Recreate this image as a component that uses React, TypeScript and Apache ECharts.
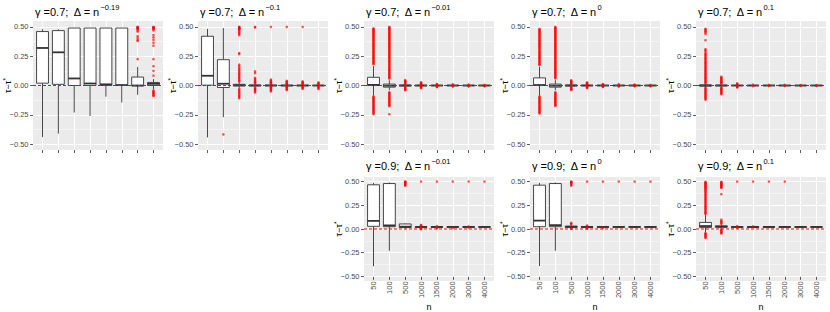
import React, { useEffect, useRef } from "react";
import * as echarts from "echarts";

// ---------- data ----------
const categories = ["50", "100", "500", "1000", "1500", "2000", "3000", "4000"];
const yTickValues = [-0.5, -0.25, 0, 0.25, 0.5];
const referenceValue = 0; // red dashed line (tau - tau* = 0)

type Box = [number, number, number, number, number]; // min, q1, median, q3, max

// Panel 1: gamma 0.7, Delta = n^-0.19
const p1Boxes: Box[] = [
  [-0.44, 0.02, 0.32, 0.46, 0.48],
  [-0.41, 0.01, 0.283, 0.468, 0.48],
  [-0.23, 0.0, 0.06, 0.49, 0.49],
  [-0.26, 0.0, 0.017, 0.49, 0.49],
  [-0.095, 0.0, 0.01, 0.49, 0.49],
  [-0.145, 0.0, 0.004, 0.49, 0.49],
  [-0.08, -0.003, 0.0, 0.072, 0.158],
  [-0.03, 0.0, 0.014, 0.026, 0.055],
];
const p1Outliers: number[][] = [
  [], [], [], [], [], [],
  [0.5, 0.497, 0.493, 0.49, 0.485, 0.48, 0.47, 0.46, 0.42, 0.405, 0.39, 0.38, 0.225],
  [0.5, 0.497, 0.494, 0.49, 0.485, 0.48, 0.47, 0.43, 0.41, 0.39, 0.365, 0.34, 0.225, 0.165, 0.125, 0.085,
    -0.042, -0.05, -0.057, -0.064, -0.07, -0.077, -0.084, -0.09],
];

// Panel 2: gamma 0.7, Delta = n^-0.1
const p2Boxes: Box[] = [
  [-0.443, 0.003, 0.083, 0.42, 0.483],
  [-0.27, -0.017, 0.015, 0.22, 0.49],
  [-0.02, -0.004, 0.002, 0.01, 0.025],
  [-0.012, -0.003, 0.0, 0.004, 0.012],
  [-0.008, -0.002, 0.0, 0.003, 0.008],
  [-0.007, -0.002, 0.0, 0.002, 0.007],
  [-0.006, -0.002, 0.0, 0.002, 0.006],
  [-0.005, -0.001, 0.0, 0.001, 0.005],
];
const p2Outliers: number[][] = [
  [],
  [-0.417],
  [0.5, 0.497, 0.493, 0.49, 0.486, 0.482, 0.478, 0.47, 0.46, 0.45, 0.44, 0.43, 0.277, 0.268,
    0.178, 0.166, 0.152, 0.141, 0.13, 0.121, 0.109, 0.1, 0.091, 0.079, 0.07, 0.061, 0.05, 0.041, 0.032,
    -0.028, -0.037, -0.048, -0.059, -0.068, -0.079, -0.089, -0.099, -0.108],
  [0.5, 0.495, 0.12, 0.105, 0.065, 0.055, 0.046, 0.038, 0.03, 0.024, 0.018,
    -0.018, -0.024, -0.03, -0.036, -0.043, -0.05, -0.06],
  [0.5, 0.05, 0.042, 0.035, 0.028, 0.022, 0.016, 0.012, -0.012, -0.016, -0.022, -0.028, -0.035, -0.042, -0.05],
  [0.5, 0.04, 0.033, 0.026, 0.02, 0.014, 0.01, -0.01, -0.014, -0.02, -0.026, -0.033, -0.038],
  [0.5, 0.035, 0.028, 0.022, 0.016, 0.011, -0.011, -0.016, -0.022, -0.028],
  [0.026, 0.02, 0.014, 0.01, -0.01, -0.015, -0.022, -0.03],
];

// Panel 3: gamma 0.7, Delta = n^-0.01
const p3Boxes: Box[] = [
  [-0.085, 0.0, 0.005, 0.07, 0.165],
  [-0.04, -0.014, -0.002, 0.012, 0.045],
  [-0.012, -0.004, 0.0, 0.004, 0.012],
  [-0.006, -0.002, 0.0, 0.002, 0.006],
  [-0.003, -0.001, 0.0, 0.001, 0.003],
  [-0.003, -0.001, 0.0, 0.001, 0.003],
  [-0.002, -0.001, 0.0, 0.001, 0.002],
  [-0.002, -0.001, 0.0, 0.001, 0.002],
];
const p3Outliers: number[][] = [
  [0.487, 0.481, 0.474, 0.469, 0.461, 0.455, 0.448, 0.44, 0.433, 0.427, 0.418, 0.412, 0.404, 0.397, 0.389,
    0.382, 0.375, 0.367, 0.36, 0.352, 0.344, 0.338, 0.33, 0.322, 0.315, 0.307, 0.3, 0.293, 0.285, 0.278,
    0.27, 0.262, 0.255, 0.248, 0.24, 0.233, 0.226, 0.218, 0.21, 0.203, 0.196, 0.188, 0.181,
    -0.092, -0.1, -0.108, -0.113, -0.121, -0.129, -0.136, -0.144, -0.152, -0.159, -0.167, -0.175, -0.183,
    -0.19, -0.198, -0.206, -0.213, -0.221, -0.229, -0.236, -0.244],
  [0.5, 0.494, 0.488, 0.481, 0.475, 0.468, 0.46, 0.453, 0.447, 0.44, 0.432, 0.425, 0.418, 0.41, 0.403,
    0.395, 0.388, 0.38, 0.372, 0.365, 0.357, 0.35, 0.343, 0.335, 0.328, 0.32, 0.312, 0.305, 0.298, 0.29,
    0.282, 0.275, 0.268, 0.26, 0.253, 0.245, 0.238, 0.23, 0.222, 0.215, 0.207, 0.2, 0.193, 0.185, 0.177,
    0.17, 0.162, 0.155, 0.147, 0.14, 0.132, 0.125, 0.118, 0.11, 0.102, 0.095, 0.088, 0.08, 0.073, 0.066,
    0.059, -0.057, -0.064, -0.071, -0.079, -0.086, -0.094, -0.101, -0.109, -0.116, -0.124, -0.131, -0.139,
    -0.146, -0.154, -0.161, -0.169, -0.176, -0.245],
  [0.046, 0.04, 0.035, 0.03, 0.025, 0.02, 0.016, -0.016, -0.02, -0.025, -0.03, -0.035, -0.04],
  [0.027, 0.022, 0.017, 0.012, 0.009, -0.009, -0.013, -0.018, -0.023],
  [0.012, 0.008, 0.005, -0.005, -0.009, -0.013],
  [0.009, 0.005, -0.005, -0.008],
  [0.007, 0.004, -0.004, -0.007],
  [0.006, -0.004, -0.006],
];

// Panel 4: gamma 0.7, Delta = n^0
const p4Boxes: Box[] = [
  [-0.085, 0.0, 0.004, 0.065, 0.16],
  [-0.04, -0.014, -0.002, 0.012, 0.045],
  [-0.012, -0.004, 0.0, 0.004, 0.012],
  [-0.006, -0.002, 0.0, 0.002, 0.006],
  [-0.003, -0.001, 0.0, 0.001, 0.003],
  [-0.003, -0.001, 0.0, 0.001, 0.003],
  [-0.002, -0.001, 0.0, 0.001, 0.002],
  [-0.002, -0.001, 0.0, 0.001, 0.002],
];
const p4Outliers: number[][] = [
  [0.482, 0.476, 0.469, 0.462, 0.455, 0.447, 0.441, 0.433, 0.426, 0.418, 0.411, 0.404, 0.396, 0.389, 0.381,
    0.374, 0.367, 0.359, 0.352, 0.344, 0.337, 0.33, 0.322, 0.315, 0.307, 0.3, 0.292, 0.285, 0.278, 0.27,
    0.263, 0.255, 0.248, 0.241, 0.233, 0.226, 0.218, 0.211, 0.204, 0.196, 0.189, 0.181, 0.175,
    -0.093, -0.101, -0.108, -0.116, -0.124, -0.131, -0.139, -0.147, -0.154, -0.162, -0.17, -0.177, -0.185,
    -0.193, -0.2, -0.208, -0.216, -0.223, -0.231, -0.238],
  [0.5, 0.493, 0.487, 0.48, 0.474, 0.466, 0.459, 0.452, 0.445, 0.438, 0.431, 0.424, 0.416, 0.409, 0.402,
    0.395, 0.387, 0.38, 0.373, 0.366, 0.358, 0.351, 0.344, 0.337, 0.329, 0.322, 0.315, 0.308, 0.3, 0.293,
    0.286, 0.279, 0.271, 0.264, 0.257, 0.25, 0.242, 0.235, 0.228, 0.221, 0.213, 0.206, 0.199, 0.192, 0.184,
    0.177, 0.17, 0.163, 0.155, 0.148, 0.141, 0.134, 0.126, 0.119, 0.112, 0.105, 0.097, 0.09, 0.083, 0.076,
    0.068, 0.061, -0.057, -0.064, -0.072, -0.079, -0.087, -0.094, -0.102, -0.109, -0.117, -0.124, -0.132,
    -0.139, -0.147, -0.154, -0.161, -0.168, -0.175],
  [0.044, 0.039, 0.034, 0.029, 0.024, 0.019, 0.015, -0.015, -0.019, -0.024, -0.029, -0.034, -0.038],
  [0.026, 0.021, 0.016, 0.012, 0.009, -0.009, -0.013, -0.017, -0.022],
  [0.011, 0.008, 0.005, -0.005, -0.008, -0.012],
  [0.009, 0.005, -0.005, -0.008],
  [0.007, 0.004, -0.004, -0.006],
  [0.006, -0.004, -0.006],
];

// Panel 5: gamma 0.7, Delta = n^0.1
const p5Boxes: Box[] = [
  [-0.014, -0.005, 0.0, 0.005, 0.014],
  [-0.01, -0.003, 0.0, 0.003, 0.01],
  [-0.004, -0.001, 0.0, 0.001, 0.004],
  [-0.002, -0.001, 0.0, 0.001, 0.002],
  [-0.002, -0.001, 0.0, 0.001, 0.002],
  [-0.002, -0.001, 0.0, 0.001, 0.002],
  [-0.002, -0.001, 0.0, 0.001, 0.002],
  [-0.002, -0.001, 0.0, 0.001, 0.002],
];
const p5Outliers: number[][] = [
  [0.483, 0.476, 0.468, 0.46, 0.452, 0.44, 0.386, 0.31, 0.3, 0.29, 0.277, 0.268, 0.26, 0.25, 0.24, 0.232,
    0.224, 0.215, 0.206, 0.197, 0.19, 0.181, 0.172, 0.163, 0.155, 0.146, 0.138, 0.13, 0.121, 0.113, 0.104,
    0.096, 0.088, 0.08, 0.072, 0.064, 0.056, 0.048, 0.04, 0.032, 0.025, 0.018,
    -0.018, -0.025, -0.032, -0.04, -0.048, -0.056, -0.064, -0.072, -0.08, -0.088, -0.096, -0.104, -0.112, -0.12],
  [0.075, 0.068, 0.061, 0.054, 0.047, 0.04, 0.034, 0.028, 0.022, 0.016,
    -0.016, -0.022, -0.028, -0.034, -0.04, -0.047, -0.054, -0.061, -0.068, -0.075],
  [0.018, 0.012, 0.007, -0.007, -0.012, -0.017],
  [0.007, -0.006],
  [0.005, -0.004],
  [0.005, -0.004],
  [0.004, -0.004],
  [0.004, -0.004],
];

// Panel 6: gamma 0.9, Delta = n^-0.01
const p6Boxes: Box[] = [
  [-0.433, 0.007, 0.067, 0.464, 0.485],
  [-0.262, 0.003, 0.017, 0.478, 0.49],
  [-0.02, -0.005, 0.003, 0.033, 0.04],
  [-0.008, -0.002, 0.0, 0.003, 0.008],
  [-0.005, -0.001, 0.0, 0.001, 0.005],
  [-0.005, -0.001, 0.0, 0.001, 0.005],
  [-0.004, -0.001, 0.0, 0.001, 0.004],
  [-0.004, -0.001, 0.0, 0.001, 0.004],
];
const p6Outliers: number[][] = [
  [],
  [],
  [0.5, 0.497, 0.493, 0.488, 0.482, 0.475, 0.468, 0.46, 0.455],
  [0.5, 0.022, 0.016, 0.012, -0.012, -0.018, -0.025],
  [0.5, 0.008, -0.008, -0.012],
  [0.5, -0.01],
  [0.5, 0.006, -0.006],
  [0.5],
];

// Panel 7: gamma 0.9, Delta = n^0
const p7Boxes: Box[] = [
  [-0.43, 0.003, 0.07, 0.46, 0.485],
  [-0.262, 0.003, 0.02, 0.478, 0.49],
  [-0.008, -0.002, 0.0, 0.01, 0.02],
  [-0.006, -0.002, 0.0, 0.002, 0.006],
  [-0.005, -0.001, 0.0, 0.001, 0.005],
  [-0.004, -0.001, 0.0, 0.001, 0.004],
  [-0.004, -0.001, 0.0, 0.001, 0.004],
  [-0.004, -0.001, 0.0, 0.001, 0.004],
];
const p7Outliers: number[][] = [
  [],
  [],
  [0.5, 0.497, 0.493, 0.488, 0.482, 0.475, 0.465, 0.455, 0.045, 0.038, 0.03, -0.015, -0.02],
  [0.5, 0.015, 0.01, -0.012, -0.018],
  [0.5, -0.01],
  [0.5],
  [0.5],
  [0.5],
];

// Panel 8: gamma 0.9, Delta = n^0.1
const p8Boxes: Box[] = [
  [-0.06, -0.005, 0.01, 0.05, 0.135],
  [-0.012, -0.002, 0.003, 0.012, 0.025],
  [-0.004, -0.001, 0.0, 0.001, 0.004],
  [-0.003, -0.001, 0.0, 0.001, 0.003],
  [-0.003, -0.001, 0.0, 0.001, 0.003],
  [-0.003, -0.001, 0.0, 0.001, 0.003],
  [-0.002, -0.001, 0.0, 0.001, 0.002],
  [-0.002, -0.001, 0.0, 0.001, 0.002],
];
const p8Outliers: number[][] = [
  [0.496, 0.49, 0.483, 0.477, 0.47, 0.462, 0.455, 0.447, 0.44, 0.432, 0.424, 0.416, 0.405, 0.394, 0.384,
    0.372, 0.36, 0.35, 0.338, 0.326, 0.315, 0.303, 0.292, 0.28, 0.268, 0.257, 0.245, 0.232, 0.22, 0.21,
    0.198, 0.186, 0.175, 0.163, 0.152, 0.145,
    -0.068, -0.076, -0.085, -0.094, -0.103, -0.112, -0.121],
  [0.497, 0.49, 0.482, 0.475, 0.468, 0.46, 0.452, 0.445, 0.437, 0.43, 0.362, 0.08, 0.065, 0.055, 0.045,
    0.035, -0.025, -0.035, -0.045, -0.055, -0.065, -0.072],
  [0.5, 0.01, -0.008],
  [0.5, 0.006],
  [0.5],
  [0.5],
  [],
  [],
];

const panelGammas = ["0.7", "0.7", "0.7", "0.7", "0.7", "0.9", "0.9", "0.9"];
const panelDeltaExps = ["−0.19", "−0.1", "−0.01", "0", "0.1", "−0.01", "0", "0.1"];
const panelBoxes = [p1Boxes, p2Boxes, p3Boxes, p4Boxes, p5Boxes, p6Boxes, p7Boxes, p8Boxes];
const panelOutliers = [p1Outliers, p2Outliers, p3Outliers, p4Outliers, p5Outliers, p6Outliers, p7Outliers, p8Outliers];

// ---------- layout ----------
const panelCol = [0, 1, 2, 3, 4, 2, 3, 4];
const panelRow = [0, 0, 0, 0, 0, 1, 1, 1];
const colLeft = [33, 198, 364, 530, 696];
const panelW = 130;
const rowTop = [21, 177];
const rowH = [129, 104];
const titleTop = [3, 157];

const FONT = "'Liberation Sans', Arial, Helvetica, sans-serif";
const fmt = (v: number) => v.toFixed(2).replace("-", "−");

function buildOption() {
  const grids: any[] = [];
  const xAxes: any[] = [];
  const yAxes: any[] = [];
  const series: any[] = [];
  const graphics: any[] = [];

  panelBoxes.forEach((boxes, k) => {
    const L = colLeft[panelCol[k]];
    const row = panelRow[k];
    const T = rowTop[row];
    const H = rowH[row];
    const u = panelW / 8.2;
    const isBottom = row === 1;

    // background panel
    graphics.push({
      type: "rect",
      z: -10,
      silent: true,
      shape: { x: L, y: T, width: panelW, height: H },
      style: { fill: "#EBEBEB" },
    });
    // title
    graphics.push({
      type: "text",
      x: L + 2,
      y: titleTop[row],
      silent: true,
      style: {
        text: `{a|γ =${panelGammas[k]};  Δ = n}{s|${panelDeltaExps[k]}}`,
        verticalAlign: "top",
        rich: {
          a: { fontSize: 11, fontFamily: FONT, fill: "#000", lineHeight: 18 },
          s: { fontSize: 7.5, fontFamily: FONT, fill: "#000", lineHeight: 6, verticalAlign: "top" },
        },
      },
    });
    // y axis title (rotated)
    graphics.push({
      type: "text",
      x: L - 25,
      y: T + H / 2,
      rotation: Math.PI / 2,
      silent: true,
      style: {
        text: "{a|τ−τ}{s|*}",
        align: "center",
        verticalAlign: "middle",
        rich: {
          a: { fontSize: 9, fontFamily: FONT, fill: "#000", lineHeight: 12 },
          s: { fontSize: 6.5, fontFamily: FONT, fill: "#000", lineHeight: 5, verticalAlign: "top" },
        },
      },
    });

    // grid A: horizontal grid lines, y labels
    const gA = grids.length;
    grids.push({
      left: L,
      top: T + (H * 0.05) / 1.1,
      width: panelW,
      height: H / 1.1,
      containLabel: false,
    });
    xAxes.push({ type: "value", gridIndex: gA, min: 0, max: 1, show: false });
    yAxes.push({
      type: "value",
      gridIndex: gA,
      min: yTickValues[0],
      max: yTickValues[yTickValues.length - 1],
      interval: 0.25,
      axisLine: { show: false, onZero: false },
      axisTick: { show: true, length: 3, lineStyle: { color: "#333", width: 0.8 } },
      axisLabel: { formatter: fmt, fontSize: 7.5, color: "#4D4D4D", margin: 4.5, fontFamily: FONT },
      splitLine: { show: true, lineStyle: { color: "#FFFFFF", width: 1 } },
      minorTick: { show: false, splitNumber: 2 },
      minorSplitLine: { show: true, lineStyle: { color: "#FFFFFF", width: 0.5 } },
    });

    // grid C: data, vertical grid lines, x ticks
    const gC = grids.length;
    grids.push({
      left: L + 0.6 * u,
      top: T,
      width: 7 * u,
      height: H,
      containLabel: false,
    });
    xAxes.push({
      type: "value",
      gridIndex: gC,
      min: 1,
      max: 8,
      interval: 1,
      axisLine: { show: false, onZero: false },
      axisTick: { show: true, length: 3, lineStyle: { color: "#333", width: 0.8 } },
      axisLabel: {
        show: isBottom,
        rotate: 90,
        formatter: (v: number) => categories[Math.round(v) - 1] ?? "",
        fontSize: 7.5,
        color: "#4D4D4D",
        margin: 4.5,
        fontFamily: FONT,
        showMinLabel: true,
        showMaxLabel: true,
      },
      splitLine: { show: true, lineStyle: { color: "#FFFFFF", width: 1 } },
      name: isBottom ? "n" : "",
      nameLocation: "middle",
      nameGap: 20,
      nameTextStyle: { fontSize: 9, color: "#000", fontFamily: FONT },
    });
    yAxes.push({ type: "value", gridIndex: gC, min: -0.55, max: 0.55, show: false });

    // boxplots
    series.push({
      type: "custom",
      xAxisIndex: gC,
      yAxisIndex: gC,
      z: 3,
      silent: true,
      clip: false,
      data: boxes.map((b, i) => [i + 1, ...b]),
      renderItem: (_params: any, api: any) => {
        const x = api.value(0);
        const lo = api.coord([x, api.value(1)]);
        const q1 = api.coord([x, api.value(2)]);
        const md = api.coord([x, api.value(3)]);
        const q3 = api.coord([x, api.value(4)]);
        const hi = api.coord([x, api.value(5)]);
        const bw = api.size([1, 0])[0] * 0.75;
        const cx = lo[0];
        const st = { stroke: "#333333", lineWidth: 0.9 };
        return {
          type: "group",
          children: [
            { type: "line", shape: { x1: cx, y1: q1[1], x2: cx, y2: lo[1] }, style: st },
            { type: "line", shape: { x1: cx, y1: q3[1], x2: cx, y2: hi[1] }, style: st },
            {
              type: "rect",
              shape: { x: cx - bw / 2, y: q3[1], width: bw, height: q1[1] - q3[1] },
              style: { fill: "#FFFFFF", stroke: "#333333", lineWidth: 0.9 },
            },
            {
              type: "line",
              shape: { x1: cx - bw / 2, y1: md[1], x2: cx + bw / 2, y2: md[1] },
              style: { stroke: "#333333", lineWidth: 1.8 },
            },
          ],
        };
      },
    });

    // outliers
    const pts: number[][] = [];
    panelOutliers[k].forEach((arr, i) => arr.forEach((v) => pts.push([i + 1, v])));
    series.push({
      type: "scatter",
      xAxisIndex: gC,
      yAxisIndex: gC,
      z: 4,
      silent: true,
      clip: false,
      symbol: "circle",
      symbolSize: 2.6,
      itemStyle: { color: "rgba(255,0,0,0.85)" },
      data: pts,
    });

    // red dashed reference line at 0 (spans full panel width)
    series.push({
      type: "line",
      xAxisIndex: gA,
      yAxisIndex: gA,
      z: 6,
      silent: true,
      showSymbol: false,
      symbol: "none",
      data: [
        [0, referenceValue],
        [1, referenceValue],
      ],
      lineStyle: { color: "#FF0000", type: [3, 2], width: 1 },
      itemStyle: { color: "#FF0000" },
    });
  });

  return {
    animation: false,
    backgroundColor: "#FFFFFF",
    grid: grids,
    xAxis: xAxes,
    yAxis: yAxes,
    series,
    graphic: { elements: graphics },
  };
}

export default function App() {
  const ref = useRef<HTMLDivElement>(null);
  useEffect(() => {
    if (!ref.current) return;
    const chart = echarts.init(ref.current, undefined, { renderer: "svg" });
    chart.setOption(buildOption() as any);
    return () => chart.dispose();
  }, []);
  return (
    <div
      ref={ref}
      style={{ position: "fixed", left: 0, top: 0, width: 830, height: 312 }}
    />
  );
}
